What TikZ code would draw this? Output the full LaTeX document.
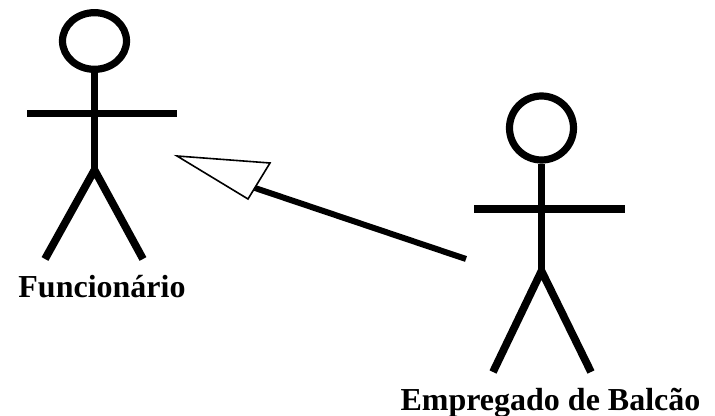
\documentclass[tikz,border=0pt]{standalone}
\usepackage{fontspec}
\setmainfont{Liberation Serif}
\usetikzlibrary{shapes.geometric}

\tikzset{
	limb/.style={line width=5.8pt},
	head/.style={draw,ellipse,line width=5.4pt,inner sep=0pt,outer sep=2.7pt},
	actorname/.style={font=\fontsize{24pt}{26pt}\selectfont\bfseries,inner sep=0pt,anchor=base},
	genline/.style={line width=4.5pt},
	genhead/.style={line width=1.2pt,fill=white,line join=miter}
}

\begin{document}
\begin{tikzpicture}[x=0.75pt,y=-0.75pt]
	\useasboundingbox (0,0) rectangle (715,416);
	
	\node[head,minimum width=48pt,minimum height=42.5pt] (funcHead) at (94.5,41) {};
	\coordinate (funcHip) at (94.5,170);
	\coordinate (funcArmL) at (27,113.5);
	\coordinate (funcArmR) at (177,113.5);
	\coordinate (funcFootL) at (45,259);
	\coordinate (funcFootR) at (143,259);
	\draw[limb] (funcHead) -- (funcHip);
	\draw[limb] (funcArmL) -- (funcArmR);
	\draw[limb] (funcFootL) -- (funcHip) -- (funcFootR);
	\node[actorname] (funcName) at (102,297.5) {Funcionário};
	
	\node[head,minimum width=48pt,minimum height=48pt] (balcHead) at (541.5,128) {};
	\coordinate (balcHip) at (541.5,271);
	\coordinate (balcArmL) at (474,209);
	\coordinate (balcArmR) at (625,209);
	\coordinate (balcFootL) at (493,372);
	\coordinate (balcFootR) at (591,372);
	\draw[limb] (balcHead) -- (balcHip);
	\draw[limb] (balcArmL) -- (balcArmR);
	\draw[limb] (balcFootL) -- (balcHip) -- (balcFootR);
	\node[actorname] (balcName) at (550.5,410.5) {Empregado de Balcão};
	
	\coordinate (genTip) at (177,156);
	\coordinate (genTop) at (270,163);
	\coordinate (genLow) at (248,199);
	\coordinate (genBase) at (255,188);
	\coordinate (genFrom) at (466,259);
	\draw[genline] (genFrom) -- (genBase);
	\draw[genhead] (genTip) -- (genTop) -- (genLow) -- cycle;
\end{tikzpicture}
\end{document}
